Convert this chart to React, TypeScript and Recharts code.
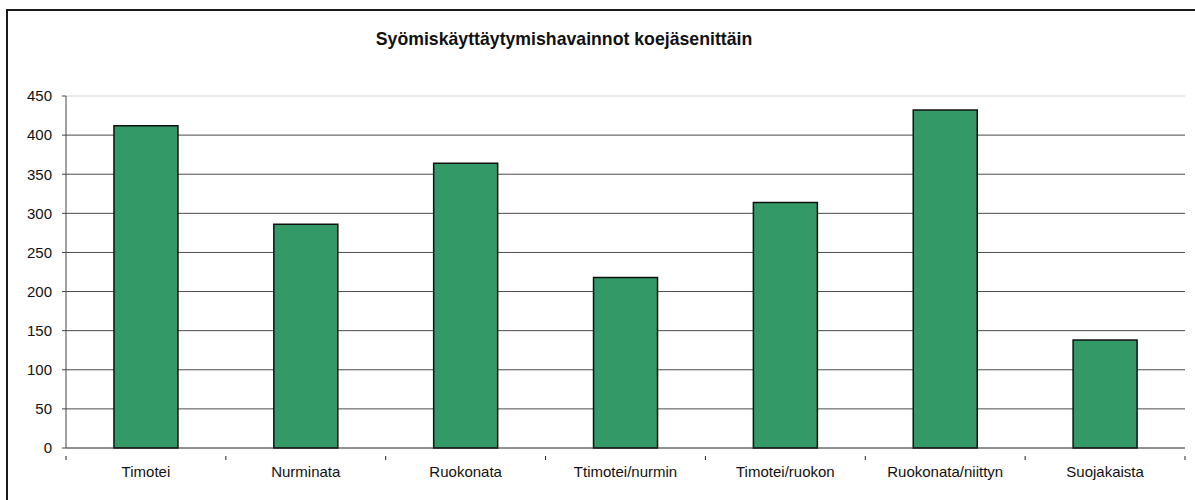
import React from "react";
import {
    BarChart,
    Bar,
    XAxis,
    YAxis,
    CartesianGrid,
    ReferenceLine,
} from "recharts";

const categories = [
    "Timotei",
    "Nurminata",
    "Ruokonata",
    "Ttimotei/nurmin",
    "Timotei/ruokon",
    "Ruokonata/niittyn",
    "Suojakaista",
];
const observations = [412, 286, 364, 218, 314, 432, 138];
const yTicks = [0, 50, 100, 150, 200, 250, 300, 350, 400, 450];

const data = categories.map((name, i) => ({ name, value: observations[i] }));

const W = 1195;
const H = 500;
const margin = { top: 96, right: 10, bottom: 22, left: 6 };
const yAxisWidth = 60;
const font = "'Liberation Sans', Arial, sans-serif";
const band = (W - margin.left - margin.right - yAxisWidth) / categories.length;

function CategoryTick(props: any) {
    const { x, y, payload, index } = props;
    const last = index === categories.length - 1;
    return (
        <g>
            <line x1={x - band / 2} x2={x - band / 2} y1={y} y2={y + 4} stroke="#222" />
            {last && (
                <line x1={x + band / 2} x2={x + band / 2} y1={y} y2={y + 4} stroke="#222" />
            )}
            <text
                x={x}
                y={y + 21}
                textAnchor="middle"
                fontSize={15}
                fontFamily={font}
                fill="#111"
            >
                {payload.value}
            </text>
        </g>
    );
}

export default function App() {
    return (
        <div style={{ position: "absolute", left: 0, top: 0, width: W, height: H, overflow: "hidden", background: "#fff" }}>
            <div
                style={{
                    position: "absolute",
                    left: 564 - 300,
                    width: 600,
                    top: 29,
                    textAlign: "center",
                    fontFamily: font,
                    fontWeight: "bold",
                    fontSize: 17.7,
                    color: "#111",
                }}
            >
                Syömiskäyttäytymishavainnot koejäsenittäin
            </div>
            <div style={{ position: "absolute", left: 0, top: 0 }}>
                <BarChart width={W} height={H} data={data} margin={margin} barCategoryGap="30%">
                    <CartesianGrid
                        vertical={false}
                        stroke="#4a4a4a"
                        horizontalValues={[50, 100, 150, 200, 250, 300, 350, 400]}
                    />
                    <ReferenceLine y={450} stroke="#d4d4d4" />
                    <XAxis
                        dataKey="name"
                        height={30}
                        tickLine={false}
                        axisLine={{ stroke: "#222" }}
                        tick={<CategoryTick />}
                        interval={0}
                    />
                    <YAxis
                        width={yAxisWidth}
                        domain={[0, 450]}
                        ticks={yTicks}
                        interval={0}
                        tickSize={4}
                        tickMargin={10}
                        axisLine={{ stroke: "#444" }}
                        tickLine={{ stroke: "#444" }}
                        tick={{ fontSize: 15, fontFamily: font, fill: "#111" }}
                    />
                    <Bar
                        dataKey="value"
                        fill="#339966"
                        stroke="#111"
                        strokeWidth={1.5}
                        isAnimationActive={false}
                    />
                </BarChart>
            </div>
            {/* chart frame: only its left and top edges fall inside the picture */}
            <div style={{ position: "absolute", left: 6, top: 9, width: 2, height: H, background: "#1a1a1a" }} />
            <div style={{ position: "absolute", left: 6, top: 9, width: W, height: 2, background: "#1a1a1a" }} />
        </div>
    );
}
